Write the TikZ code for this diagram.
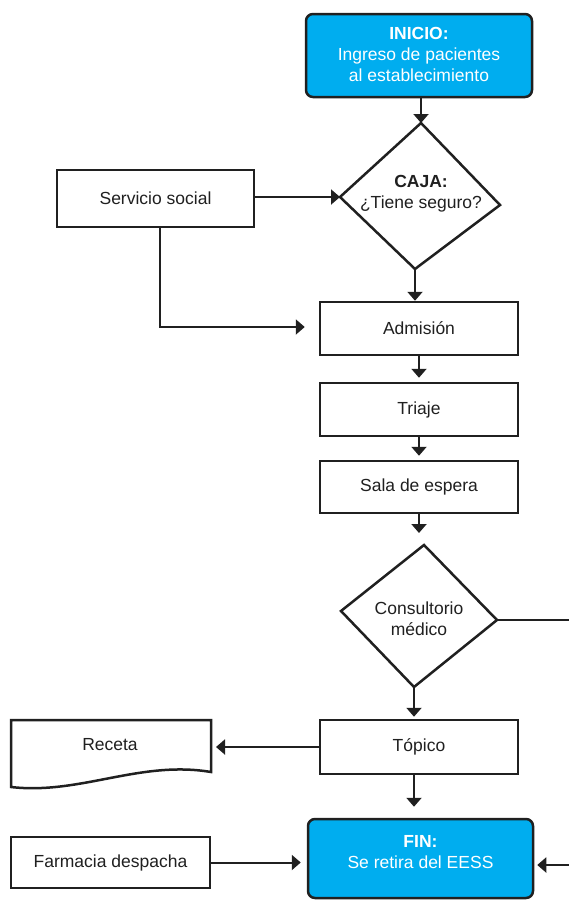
\documentclass[tikz,border=0pt]{standalone}
\usepackage{fontspec}
\setmainfont{Liberation Sans}
\usetikzlibrary{arrows.meta}
\definecolor{boxcyan}{RGB}{0,173,239}
\definecolor{ink}{RGB}{32,32,32}
\begin{document}
\begin{tikzpicture}[x=1pt,y=-1pt,
  font=\fontsize{17.5}{21}\selectfont,
  every node/.style={text=ink},
  shapeline/.style={draw=ink, line width=2.5pt, line join=miter},
  procbox/.style={shapeline, inner sep=0pt, align=center},
  terminal/.style={draw=ink, fill=boxcyan, line width=2.5pt, rounded corners=7pt, inner sep=0pt},
  whitetext/.style={text=white, align=center},
  link/.style={draw=ink, line width=2pt, -{Triangle[width=15pt,length=9pt]}}
]
\useasboundingbox (0,0) rectangle (569,900);
\fill[white] (0,0) rectangle (569,900);
\clip (0,0) rectangle (569,900);

% start terminal
\node[terminal, minimum width=226pt, minimum height=83pt] (inicio) at (419,55.5) {};
\node[whitetext] (iniciotext) at (419,54) {\textbf{INICIO:}\\Ingreso de pacientes\\al establecimiento};

% cashier decision
\coordinate (cajaT) at (421,123);
\coordinate (cajaR) at (500,205);
\coordinate (cajaB) at (415,269);
\coordinate (cajaL) at (340,197);
\draw[shapeline] (cajaT) -- (cajaR) -- (cajaB) -- (cajaL) -- cycle;
\node[align=center] (caja) at (421,194) {\textbf{CAJA:}\\¿Tiene seguro?};

\node[procbox, minimum width=197pt, minimum height=57pt] (ss) at (155.5,198.5) {Servicio social};

% main sequence
\node[procbox, minimum width=198pt, minimum height=53pt] (adm) at (419,328.5) {Admisión};
\node[procbox, minimum width=198pt, minimum height=53pt] (tri) at (419,409.5) {Triaje};
\node[procbox, minimum width=198pt, minimum height=52pt] (sala) at (419,487) {Sala de espera};

% consultation decision
\coordinate (consT) at (424,545);
\coordinate (consR) at (497,620);
\coordinate (consB) at (414,687);
\coordinate (consL) at (341,611);
\draw[shapeline] (consT) -- (consR) -- (consB) -- (consL) -- cycle;
\node[align=center] (cons) at (419,619) {Consultorio\\médico};

\node[procbox, minimum width=198pt, minimum height=54pt] (top) at (419,747) {Tópico};

% prescription document
\coordinate (recE) at (211,747);
\draw[shapeline] (11,720) -- (211,720) -- (211,772)
  .. controls (140,760) and (80,795) .. (11,787) -- cycle;
\node (receta) at (110,745) {Receta};

% end terminal
\node[terminal, minimum width=225pt, minimum height=79pt] (fin) at (420.5,858.5) {};
\node[whitetext] (fintext) at (420.5,852) {\textbf{FIN:}\\Se retira del EESS};

\node[procbox, minimum width=199pt, minimum height=51pt] (farm) at (110.5,862.5) {Farmacia despacha};

% connectors
\draw[link] (cajaT |- inicio.south) -- (cajaT);
\draw[link] (ss.east |- cajaL) -- (cajaL);
\coordinate (ssTurn) at (160,327);
\draw[link, shorten >=14pt] (ssTurn |- ss.south) -- (ssTurn) -- (ssTurn -| adm.west);
\draw[link] (cajaB) -- (cajaB |- adm.north);
\draw[link, shorten >=4pt] (adm.south) -- (tri.north);
\draw[link, shorten >=4pt] (tri.south) -- (sala.north);
\draw[link, shorten >=12pt] (sala.south) -- (sala.south |- consT);
\draw[link, shorten >=2pt] (consB) -- (consB |- top.north);
\draw[link, shorten >=5pt] (top.west) -- (recE);
\draw[link, shorten >=11pt] (top.south -| consB) -- (consB |- fin.north);
\draw[link, shorten >=6pt] (farm.east) -- (farm.east -| fin.west);
\coordinate (offA) at (590,620);
\coordinate (offB) at (590,865);
\draw[link, shorten >=3pt] (consR) -- (offA) -- (offB) -- (offB -| fin.east);
\end{tikzpicture}
\end{document}
